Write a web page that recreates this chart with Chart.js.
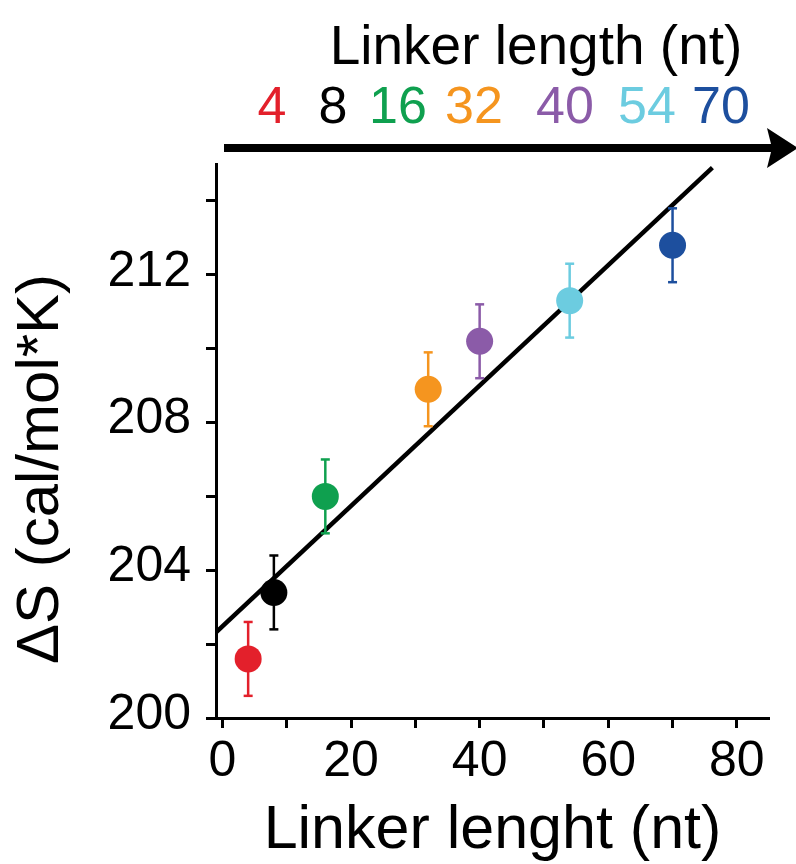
<!DOCTYPE html>
<html>
<head>
<meta charset="utf-8">
<script src="https://cdn.jsdelivr.net/npm/chart.js@4/dist/chart.umd.min.js"></script>
<style>
  html, body { margin: 0; padding: 0; background: #fff; }
  #wrap { width: 796px; height: 864px; position: relative; }
</style>
</head>
<body>
<div id="wrap"><canvas id="c" width="796" height="864"></canvas></div>
<script>
// ---- data ----
const linkerLengths = [4, 8, 16, 32, 40, 54, 70];
const deltaS = [201.6, 203.4, 206.0, 208.9, 210.2, 211.3, 212.8];
const deltaSErr = [1.0, 1.0, 1.0, 1.0, 1.0, 1.0, 1.0];
const pointColors = ['#e3202b', '#000000', '#0fa04f', '#f5951f', '#8b5ba8', '#6ccce0', '#1d4f9e'];
const fitX = [-1, 76.2];
const fitY = [202.32, 214.9];
const xTickValues = [0, 10, 20, 30, 40, 50, 60, 70, 80];
const xLabelValues = [0, 20, 40, 60, 80];
const yTickValues = [200, 202, 204, 206, 208, 210, 212, 214];
const yLabelValues = [200, 204, 208, 212];
const topLabels = ['4', '8', '16', '32', '40', '54', '70'];
const topTitle = 'Linker length (nt)';
const xTitle = 'Linker lenght (nt)';
const yTitle = '\u0394S (cal/mol*K)';

// ---- layout (not data) ----
const FONT = '"Liberation Sans", Arial, Helvetica, sans-serif';
const topLabelCenters = [272, 333, 398, 474, 565, 647, 721];

const datasets = [];
datasets.push({
  type: 'line',
  data: fitX.map((x, i) => ({ x: x, y: fitY[i] })),
  borderColor: '#000',
  borderWidth: 4.5,
  pointRadius: 0,
  fill: false,
  order: 3
});
linkerLengths.forEach((x, i) => {
  datasets.push({
    type: 'line',
    data: [{ x: x, y: deltaS[i] - deltaSErr[i] }, { x: x, y: deltaS[i] + deltaSErr[i] }],
    borderColor: pointColors[i],
    borderWidth: 2.5,
    pointStyle: 'line',
    pointRadius: 4.5,
    pointBorderWidth: 2.5,
    pointBorderColor: pointColors[i],
    fill: false,
    order: 2
  });
});
datasets.push({
  type: 'scatter',
  data: linkerLengths.map((x, i) => ({ x: x, y: deltaS[i] })),
  pointBackgroundColor: pointColors,
  pointBorderWidth: 0,
  pointRadius: 13.5,
  pointHoverRadius: 13.5,
  order: 1
});

const annotPlugin = {
  id: 'annot',
  afterDraw(chart) {
    const ctx = chart.ctx;
    ctx.save();
    ctx.fillStyle = '#000';
    // top title
    ctx.font = '55px ' + FONT;
    ctx.textAlign = 'center';
    ctx.textBaseline = 'alphabetic';
    ctx.fillText(topTitle, 536, 64);
    // colored linker labels
    ctx.font = '52px ' + FONT;
    topLabels.forEach((t, i) => {
      ctx.fillStyle = pointColors[i];
      ctx.fillText(t, topLabelCenters[i], 123);
    });
    // arrow
    ctx.strokeStyle = '#000';
    ctx.fillStyle = '#000';
    ctx.lineWidth = 8;
    ctx.beginPath();
    ctx.moveTo(224, 148);
    ctx.lineTo(775, 148);
    ctx.stroke();
    ctx.beginPath();
    ctx.moveTo(798, 148);
    ctx.lineTo(767, 128);
    ctx.lineTo(772, 148);
    ctx.lineTo(767, 168);
    ctx.closePath();
    ctx.fill();
    // y title
    ctx.translate(58, 469);
    ctx.rotate(-Math.PI / 2);
    ctx.fillStyle = '#000';
    ctx.font = '60px ' + FONT;
    ctx.textAlign = 'center';
    ctx.textBaseline = 'alphabetic';
    ctx.fillText(yTitle, 0, 0);
    ctx.restore();
  }
};

new Chart(document.getElementById('c'), {
  data: { datasets: datasets },
  options: {
    responsive: false,
    animation: false,
    events: [],
    layout: { padding: { top: 164, right: 27, left: 0, bottom: 0 } },
    plugins: { legend: { display: false }, tooltip: { enabled: false } },
    scales: {
      x: {
        type: 'linear',
        min: -1,
        max: 85,
        afterBuildTicks: s => { s.ticks = xTickValues.map(v => ({ value: v })); },
        afterFit: s => { s.height = 146; },
        border: { display: true, color: '#000', width: 3 },
        grid: { display: true, drawOnChartArea: false, drawTicks: true, tickLength: 10, tickWidth: 3, tickColor: '#000' },
        ticks: {
          color: '#000',
          font: { family: FONT, size: 50 },
          padding: 4,
          maxRotation: 0,
          autoSkip: false,
          callback: v => xLabelValues.includes(v) ? String(v) : ''
        },
        title: {
          display: true,
          text: xTitle,
          color: '#000',
          font: { family: FONT, size: 61 },
          padding: { top: 0, bottom: -4 }
        }
      },
      y: {
        type: 'linear',
        min: 200,
        max: 215,
        afterBuildTicks: s => { s.ticks = yTickValues.map(v => ({ value: v })); },
        afterFit: s => { s.width = 216; },
        border: { display: true, color: '#000', width: 3 },
        grid: { display: true, drawOnChartArea: false, drawTicks: true, tickLength: 10, tickWidth: 3, tickColor: '#000' },
        ticks: {
          color: '#000',
          font: { family: FONT, size: 50 },
          padding: 15,
          labelOffset: -3,
          autoSkip: false,
          callback: v => yLabelValues.includes(v) ? String(v) : ''
        }
      }
    }
  },
  plugins: [annotPlugin]
});
</script>
</body>
</html>
